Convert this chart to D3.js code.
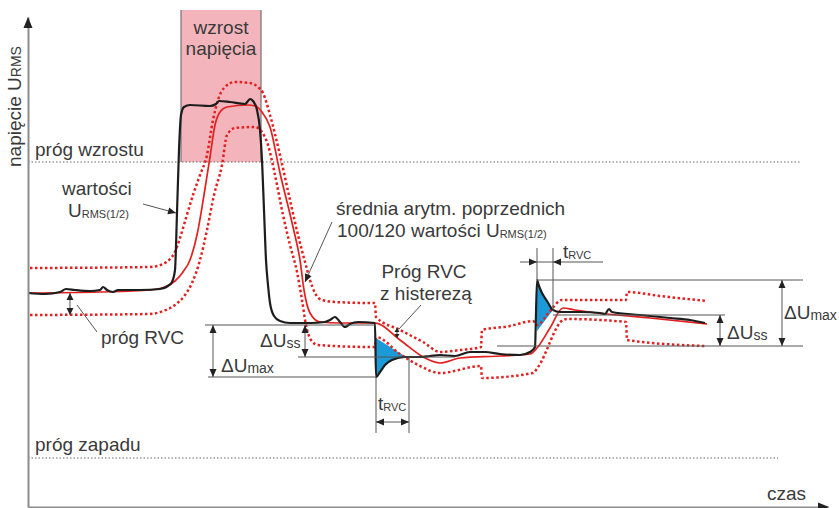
<!DOCTYPE html>
<html><head><meta charset="utf-8">
<script src="https://cdn.jsdelivr.net/npm/d3@7"></script>
<style>
html,body{margin:0;padding:0;background:#fff;}
svg{display:block;font-family:"Liberation Sans",Arial,sans-serif;}
</style></head><body>
<svg id="chart" width="839" height="508"></svg>
<script>
// ---- data (time units, voltage units) ----
const blackSeries = [[0,214],[17,213],[32,215],[38,218],[47,217],[62,216],[72,217],[75,220],[79,217],[85,215],[90,217],[112,217],[132,218],[140,221],[144,225],[147,237],[149,294],[151,357],[153,392],[156,400],[162,402],[182,401],[188,403],[191,406],[202,405],[217,403],[220,406],[222,408],[225,406],[229,397],[232,377],[234,347],[236,297],[238,247],[240,222],[242,204],[246,191],[252,186],[262,184],[282,184],[297,185],[302,187],[307,190],[312,185],[317,180],[322,183],[330,185],[347,184],[348,130],[352,135],[357,142],[364,147],[377,150],[392,150],[402,151],[412,152],[427,151],[442,155],[457,155],[472,153],[492,152],[502,155],[507,160],[509,227],[511,221],[514,214],[519,206],[525,197],[532,195],[552,195],[572,194],[577,193],[581,198],[584,195],[612,192],[642,189],[662,187],[677,184]];
const meanSeries = [[0,214],[72,215],[122,217],[137,220],[147,226],[155,235],[162,247],[169,272],[176,312],[182,350],[187,382],[192,395],[199,400],[220,402],[227,401],[234,395],[242,380],[252,334],[265,280],[272,247],[276,217],[282,194],[292,185],[312,184],[347,184],[372,167],[397,149],[412,144],[432,149],[472,151],[502,153],[509,159],[522,179],[535,199],[547,197],[579,193],[622,189],[679,183]];
const upperBand = [[2,239],[122,240],[135,243],[142,248],[147,255],[152,269],[158,289],[165,312],[172,332],[179,352],[185,387],[190,407],[196,419],[207,425],[222,424],[230,420],[235,414],[242,392],[252,352],[262,307],[270,272],[277,245],[282,227],[287,214],[294,207],[307,205],[345,204],[347,204],[348,190],[372,177],[395,165],[412,155],[432,157],[453,160],[454,177],[482,181],[505,186],[509,182],[522,196],[534,207],[598,207],[599,215],[632,211],[679,206]];
const lowerBand = [[2,192],[122,193],[135,196],[147,202],[157,212],[164,224],[172,247],[179,277],[186,312],[194,342],[199,372],[207,379],[227,380],[234,375],[240,362],[247,332],[255,292],[262,262],[269,235],[274,207],[278,182],[283,167],[290,162],[345,160],[347,160],[348,170],[372,153],[392,141],[412,134],[453,141],[454,129],[505,134],[510,140],[535,187],[539,188],[598,185],[599,167],[677,161]];
const blueArea1 = [[348,169],[378,150],[364,147],[357,142],[352,135],[348,130]];
const blueArea2 = [[509,227],[511,221],[514,214],[519,206],[525,197],[509,176]];
const swellWindow = [153, 233];
const swellThreshold = 345;
const dipThreshold = 49;
const rvcStart = [348, 509];
const rvcEnd = [381, 525];
const levelBefore = [182, 161];
const levelSteady = [150, 192];
const levelPeak = [130, 227];
const rvcBandWidth = [214, 192];

// ---- scales ----
const x = d3.scaleLinear().domain([0, 800]).range([28, 828]);
const y = d3.scaleLinear().domain([0, 490]).range([507, 17]);
const svg = d3.select('#chart');
const TXT = '#3a3a3a', ANN = '#555', RED = '#e3201f';
const line = d3.line().x(d => x(d[0])).y(d => y(d[1])).curve(d3.curveMonotoneX);
const poly = d3.line().x(d => x(d[0])).y(d => y(d[1])).curve(d3.curveLinearClosed);

// swell window
svg.append('rect').attr('x', x(swellWindow[0])).attr('y', y(497))
  .attr('width', x(swellWindow[1]) - x(swellWindow[0]))
  .attr('height', y(swellThreshold) - y(497)).attr('fill', '#f3b4bb');
swellWindow.forEach(t => svg.append('line').attr('x1', x(t)).attr('x2', x(t))
  .attr('y1', y(497)).attr('y2', y(swellThreshold)).attr('stroke', '#7a7a7a').attr('stroke-width', 1.3));

// thresholds
svg.append('line').attr('x1', x(0)).attr('x2', x(772)).attr('y1', y(swellThreshold)).attr('y2', y(swellThreshold))
  .attr('stroke', '#666').attr('stroke-width', 1).attr('stroke-dasharray', '1.5,2');
svg.append('line').attr('x1', x(0)).attr('x2', x(750)).attr('y1', y(dipThreshold)).attr('y2', y(dipThreshold))
  .attr('stroke', '#666').attr('stroke-width', 1).attr('stroke-dasharray', '1.5,2');

// blue areas
[blueArea1, blueArea2].forEach(a => svg.append('path').attr('d', poly(a)).attr('fill', '#1b9ad7'));

// bands
[upperBand, lowerBand].forEach(b => svg.append('path').attr('d', line(b)).attr('fill', 'none')
  .attr('stroke', RED).attr('stroke-width', 2.5).attr('stroke-dasharray', '2.5,2.5'));
svg.append('path').attr('d', line(meanSeries)).attr('fill', 'none').attr('stroke', RED).attr('stroke-width', 1.7);
svg.append('path').attr('d', line(blackSeries)).attr('fill', 'none').attr('stroke', '#1d1d1d').attr('stroke-width', 2.2);

// helpers
function seg(t1, v1, t2, v2, col, w) {
  svg.append('line').attr('x1', x(t1)).attr('y1', y(v1)).attr('x2', x(t2)).attr('y2', y(v2))
    .attr('stroke', col || ANN).attr('stroke-width', w || 1);
}
function head(px, py, fx, fy, L, Wd) {
  L = L || 8; Wd = Wd || 3.5;
  const dx = px - fx, dy = py - fy, n = Math.hypot(dx, dy), ux = dx / n, uy = dy / n;
  const bx = px - ux * L, by = py - uy * L;
  svg.append('path').attr('d', `M${px},${py}L${bx - uy * Wd},${by + ux * Wd}L${bx + uy * Wd},${by - ux * Wd}Z`).attr('fill', '#222');
}
function dbl(t1, v1, t2, v2, L, Wd) {
  seg(t1, v1, t2, v2);
  head(x(t1), y(v1), x(t2), y(v2), L, Wd);
  head(x(t2), y(v2), x(t1), y(v1), L, Wd);
}
function label(t, v, parts, anchor) {
  const tx = svg.append('text').attr('x', x(t)).attr('y', y(v)).attr('fill', TXT)
    .attr('text-anchor', anchor || 'start');
  parts.forEach(p => tx.append('tspan').attr('font-size', p[1]).attr('dy', p[2] || 0).text(p[0]));
  return tx;
}

// event 1 (drop)
seg(177, levelBefore[0], rvcStart[0], levelBefore[0]);
seg(270, levelSteady[0], 427, levelSteady[0]);
seg(180, levelPeak[0], rvcStart[0], levelPeak[0]);
dbl(185, levelBefore[0], 185, levelPeak[0]);
dbl(277, levelBefore[0], 277, levelSteady[0]);
seg(rvcStart[0], levelPeak[0], rvcStart[0], 74);
seg(rvcEnd[0], levelSteady[0], rvcEnd[0], 74);
dbl(rvcStart[0], 85, rvcEnd[0], 85);

// event 2 (rise)
seg(rvcStart[1], levelPeak[1], 775, levelPeak[1]);
seg(rvcEnd[1], levelSteady[1], 697, levelSteady[1]);
seg(469, levelBefore[1], 775, levelBefore[1]);
dbl(692, levelBefore[1], 692, levelSteady[1]);
dbl(754, levelBefore[1], 754, levelPeak[1]);
seg(rvcStart[1], levelPeak[1], rvcStart[1], 259);
seg(rvcEnd[1], 196, rvcEnd[1], 259);
seg(492, 245, 575, 245);
head(x(rvcStart[1]), y(245), x(rvcStart[1]) - 10, y(245));
head(x(rvcEnd[1]), y(245), x(rvcEnd[1]) + 10, y(245));

// próg RVC
dbl(42, rvcBandWidth[0], 42, rvcBandWidth[1], 7, 3.5);
seg(49, 202, 69, 175);
// hysteresis marker
dbl(369, 179, 369, 169, 4, 2.5);
seg(393, 202, 371, 178);
// leaders with arrows
seg(115, 303, 148, 294); head(x(148), y(294), x(115), y(303));
seg(304, 285, 277, 225); head(x(277), y(225), x(304), y(285));

// labels
label(7, 351, [['próg wzrostu', 19]]);
label(7, 56, [['próg zapadu', 19]]);
label(193, 473, [['wzrost', 19]], 'middle');
label(193, 452, [['napięcia', 19]], 'middle');
label(34, 312, [['wartości', 19]]);
label(40, 290, [['U', 19], ['RMS(1/2)', 11, 1]]);
label(73, 163, [['próg RVC', 19]]);
label(308, 292, [['średnia arytm. poprzednich', 19]]);
label(309, 270, [['100/120 wartości U', 19], ['RMS(1/2)', 11, 1]]);
label(396, 229, [['Próg RVC', 19]], 'middle');
label(398, 207, [['z histerezą', 19]], 'middle');
label(232, 160, [['ΔU', 19], ['ss', 14, 1]]);
label(193, 135, [['ΔU', 19], ['max', 14, 1]]);
label(350, 97, [['t', 19], ['RVC', 11, 1]]);
label(535, 249, [['t', 19], ['RVC', 11, 1]]);
label(699, 168, [['ΔU', 19], ['ss', 14, 1]]);
label(756, 188, [['ΔU', 19], ['max', 14, 1]]);
label(739, 7, [['czas', 19]]);
// y label
const yl = svg.append('text').attr('transform', `translate(21,167) rotate(-90)`).attr('fill', TXT);
yl.append('tspan').attr('font-size', 19).text('napięcie U');
yl.append('tspan').attr('font-size', 14).text('RMS');

// axes
svg.append('g').attr('transform', `translate(0,${y(0)})`)
  .call(d3.axisBottom(x).tickValues([]).tickSizeOuter(0))
  .call(g => g.select('.domain').attr('stroke', '#8c8c8c').attr('stroke-width', 2));
svg.append('g').attr('transform', `translate(${x(0)},0)`)
  .call(d3.axisLeft(y).tickValues([]).tickSizeOuter(0))
  .call(g => g.select('.domain').attr('stroke', '#8c8c8c').attr('stroke-width', 2));
head(x(801), y(0), x(780), y(0), 11, 4.5);
head(x(0), y(490), x(0), y(470), 11, 4.5);
</script>
</body></html>
